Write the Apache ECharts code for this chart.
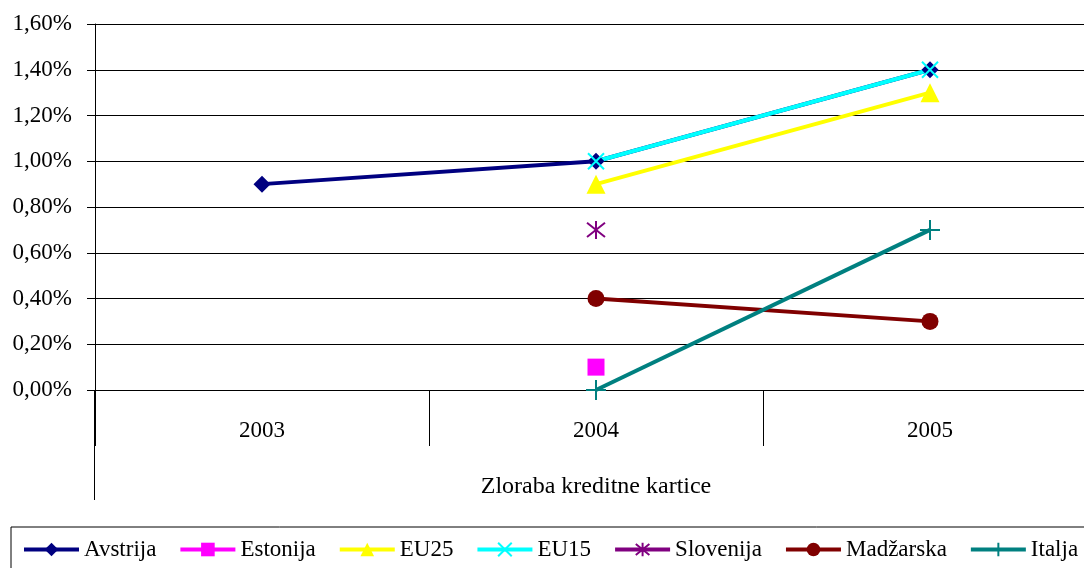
<!DOCTYPE html>
<html>
<head>
<meta charset="utf-8">
<style>
  html, body { margin: 0; padding: 0; background: #fff; }
  #chart { width: 1084px; height: 568px; }
</style>
<script src="https://cdn.jsdelivr.net/npm/echarts@6/dist/echarts.min.js"></script>
</head>
<body>
<div id="chart"></div>
<script>
  // leta
  var years = ['2003', '2004', '2005'];

  // vrednosti v % (null = ni podatka)
  var avstrija  = [0.9, 1.0, 1.4];
  var estonija  = [null, 0.1, null];
  var eu25      = [null, 0.9, 1.3];
  var eu15      = [null, 1.0, 1.4];
  var slovenija = [null, 0.7, null];
  var madzarska = [null, 0.4, 0.3];
  var italja    = [null, 0.0, 0.7];

  var serif = '"Liberation Serif", "Times New Roman", serif';

  var xPath    = 'path://M0,0 L10,10 M10,0 L0,10';
  var starPath = 'path://M5,0 L5,10 M0,1 L10,9 M0,9 L10,1';
  var plusPath = 'path://M5,0 L5,10 M0,5 L10,5';

  function line(name, data, color, symbol, size, stroke) {
    return {
      name: name,
      type: 'line',
      data: data,
      symbol: symbol,
      symbolSize: size,
      showAllSymbol: true,
      connectNulls: false,
      lineStyle: { color: color, width: 4 },
      itemStyle: { color: color, borderColor: color, borderWidth: stroke ? 2 : 0 },
      emphasis: { disabled: true },
      animation: false
    };
  }

  var myChart = echarts.init(document.getElementById('chart'));
  var option = {
    backgroundColor: '#fff',
    textStyle: { fontFamily: serif },
    grid: { left: 95, top: 24, width: 1002, height: 366, outerBoundsMode: 'none' },
    legend: {
      left: 11,
      top: 527,
      width: 1140,
      orient: 'horizontal',
      padding: [11, 20, 20, 11],
      borderColor: '#000',
      borderWidth: 1,
      itemWidth: 55,
      itemHeight: 17,
      itemGap: 22,
      lineStyle: { width: 4 },
      textStyle: { fontFamily: serif, fontSize: 23, color: '#000' },
      data: ['Avstrija', 'Estonija', 'EU25', 'EU15', 'Slovenija', 'Madžarska', 'Italja']
    },
    xAxis: {
      type: 'category',
      data: years,
      boundaryGap: true,
      name: 'Zloraba kreditne kartice',
      nameLocation: 'middle',
      nameGap: 85,
      nameTextStyle: { fontFamily: serif, fontSize: 24, color: '#000' },
      axisLine: { lineStyle: { color: '#000', width: 1 } },
      axisTick: { show: true, length: 56, lineStyle: { color: '#000' } },
      axisLabel: { margin: 29, fontFamily: serif, fontSize: 23, color: '#000' }
    },
    yAxis: {
      type: 'value',
      min: 0,
      max: 1.6,
      interval: 0.2,
      axisLine: { show: true, lineStyle: { color: '#000', width: 1 } },
      axisTick: { show: true, length: 8, lineStyle: { color: '#000' } },
      splitLine: { lineStyle: { color: '#000', width: 1 } },
      axisLabel: {
        margin: 23,
        fontFamily: serif,
        fontSize: 23,
        color: '#000',
        formatter: function (v) { return v.toFixed(2).replace('.', ',') + '%'; }
      }
    },
    graphic: [{
      type: 'line',
      shape: { x1: 94.5, y1: 390, x2: 94.5, y2: 500 },
      style: { stroke: '#000', lineWidth: 1 }
    }],
    series: [
      line('Avstrija', avstrija, '#000080', 'diamond', 17, false),
      line('Estonija', estonija, '#FF00FF', 'rect', 17, false),
      line('EU25', eu25, '#FFFF00', 'triangle', 19, false),
      line('EU15', eu15, '#00FFFF', xPath, 16, true),
      line('Slovenija', slovenija, '#800080', starPath, 18, true),
      line('Madžarska', madzarska, '#800000', 'circle', 17, false),
      line('Italja', italja, '#008080', plusPath, 20, true)
    ]
  };
  myChart.setOption(option);
</script>
</body>
</html>
